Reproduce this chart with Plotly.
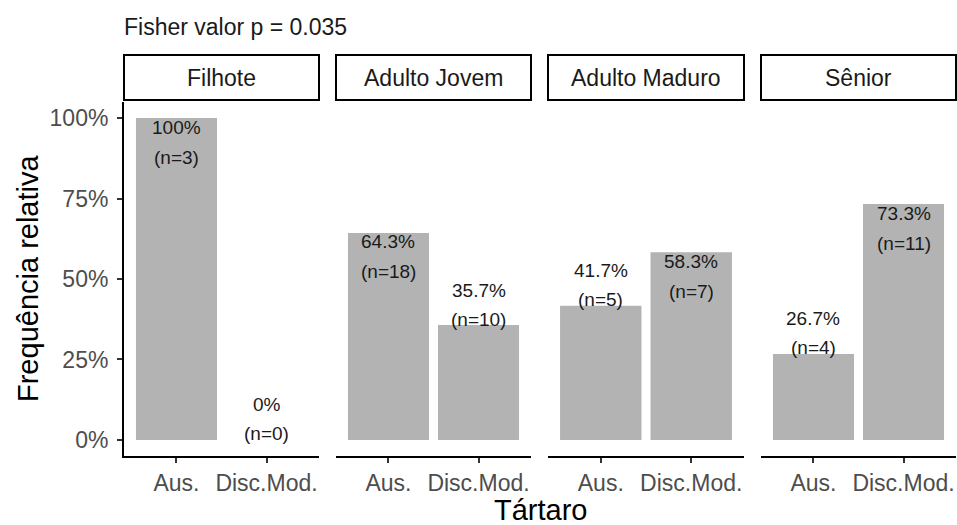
import plotly.graph_objects as go

# Data: relative frequency of tartar grade per age group
age_groups = ["Filhote", "Adulto Jovem", "Adulto Maduro", "Sênior"]
categories = ["Aus.", "Disc.Mod."]
freq = [
    [1.000, 0.000],
    [0.643, 0.357],
    [0.417, 0.583],
    [0.267, 0.733],
]
counts = [
    [3, 0],
    [18, 10],
    [5, 7],
    [4, 11],
]
pct_labels = [
    ["100%", "0%"],
    ["64.3%", "35.7%"],
    ["41.7%", "58.3%"],
    ["26.7%", "73.3%"],
]
y_tick_vals = [0, 0.25, 0.5, 0.75, 1.0]
y_tick_text = ["0%", "25%", "50%", "75%", "100%"]
title_text = "Fisher valor p = 0.035"
x_title = "Tártaro"
y_title = "Frequência relativa"

W, H = 957, 525
FONT = "Liberation Sans, Arial, sans-serif"
BAR_COLOR = "#b3b3b3"
TICK_COLOR = "#4d4d4d"
TEXT_COLOR = "#1a1a1a"


def px_x(p):
    return p / W


def px_y(p):
    return 1 - p / H


# panel pixel extents (left, right), shared vertical extent
panels_px = [(124, 319), (336, 531), (548, 744), (761, 956)]
panel_top, panel_bottom = 102, 456
strip_top, strip_bottom = 55, 100

fig = go.Figure()
layout = dict(
    width=W,
    height=H,
    margin=dict(l=0, r=0, t=0, b=0),
    paper_bgcolor="white",
    plot_bgcolor="white",
    showlegend=False,
    font=dict(family=FONT, color=TEXT_COLOR),
    shapes=[],
    annotations=[],
)

xvals = list(range(len(categories)))

for i, grp in enumerate(age_groups):
    ax = "" if i == 0 else str(i + 1)
    xref = "x" + ax
    fig.add_trace(
        go.Bar(
            x=xvals,
            y=freq[i],
            width=0.9,
            marker=dict(color=BAR_COLOR, line=dict(width=0)),
            xaxis=xref,
            yaxis="y",
            hoverinfo="skip",
        )
    )
    l, r = panels_px[i]
    layout["xaxis" + ax] = dict(
        domain=[px_x(l), px_x(r)],
        anchor="y",
        range=[-0.583, 1.583],
        tickvals=xvals,
        ticktext=categories,
        showline=True,
        linecolor="black",
        linewidth=2,
        ticks="outside",
        ticklen=5,
        tickwidth=2,
        tickcolor="#333333",
        tickfont=dict(size=23, color=TICK_COLOR, family=FONT),
        showgrid=False,
        zeroline=False,
        fixedrange=True,
    )

    # strip box and label
    layout["shapes"].append(
        dict(
            type="rect",
            xref="paper",
            yref="paper",
            x0=px_x(l),
            x1=px_x(r),
            y0=px_y(strip_bottom),
            y1=px_y(strip_top),
            line=dict(color="black", width=2),
            fillcolor="white",
        )
    )
    layout["annotations"].append(
        dict(
            text=grp,
            xref="paper",
            yref="paper",
            x=px_x((l + r) / 2),
            y=px_y((strip_top + strip_bottom) / 2),
            xanchor="center",
            yanchor="middle",
            showarrow=False,
            font=dict(size=23, color=TEXT_COLOR, family=FONT),
        )
    )

    # value labels: inside the top of the taller bar, above the shorter one
    top_val = max(freq[i])
    for j, v in enumerate(freq[i]):
        inside = v == top_val
        shifts = (-9, -39) if inside else (35, 6)
        for txt, shift in zip([pct_labels[i][j], f"(n={counts[i][j]})"], shifts):
            layout["annotations"].append(
                dict(
                    text=txt,
                    xref=xref,
                    yref="y",
                    x=j,
                    y=v,
                    yshift=shift,
                    xanchor="center",
                    yanchor="middle",
                    showarrow=False,
                    font=dict(size=19, color=TEXT_COLOR, family=FONT),
                )
            )

layout["yaxis"] = dict(
    domain=[px_y(panel_bottom), px_y(panel_top)],
    anchor="x",
    range=[-0.05, 1.05],
    tickvals=y_tick_vals,
    ticktext=y_tick_text,
    showline=True,
    linecolor="black",
    linewidth=2,
    ticks="outside",
    ticklen=5,
    tickwidth=2,
    tickcolor="#333333",
    ticklabelstandoff=4,
    tickfont=dict(size=23, color=TICK_COLOR, family=FONT),
    showgrid=False,
    zeroline=False,
    fixedrange=True,
)

# titles
layout["annotations"].append(
    dict(
        text=title_text,
        xref="paper",
        yref="paper",
        x=px_x(122),
        y=px_y(27),
        xanchor="left",
        yanchor="middle",
        showarrow=False,
        font=dict(size=23, color=TEXT_COLOR, family=FONT),
    )
)
layout["annotations"].append(
    dict(
        text=x_title,
        xref="paper",
        yref="paper",
        x=px_x(540),
        y=px_y(510),
        xanchor="center",
        yanchor="middle",
        showarrow=False,
        font=dict(size=29, color="black", family=FONT),
    )
)
layout["annotations"].append(
    dict(
        text=y_title,
        xref="paper",
        yref="paper",
        x=px_x(28),
        y=px_y(279),
        xanchor="center",
        yanchor="middle",
        textangle=-90,
        showarrow=False,
        font=dict(size=29, color="black", family=FONT),
    )
)

fig.update_layout(**layout)
fig.write_html("out.html")
